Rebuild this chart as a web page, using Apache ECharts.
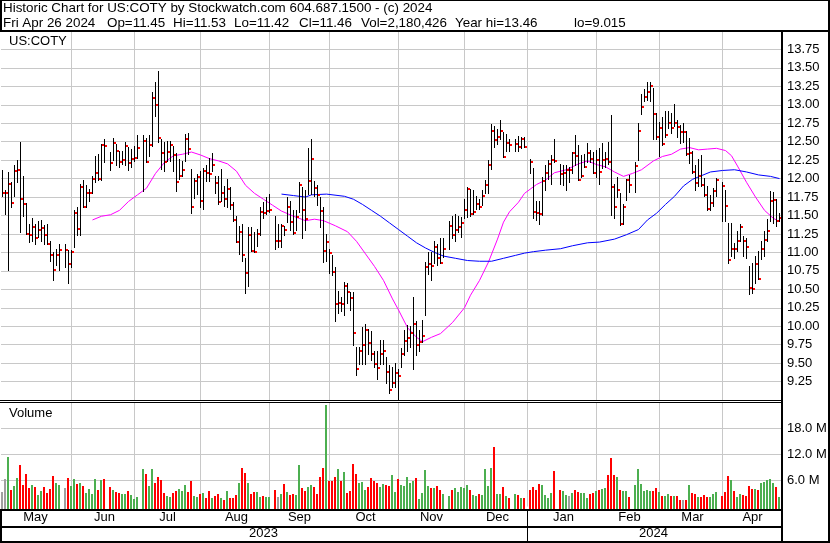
<!DOCTYPE html>
<html><head><meta charset="utf-8">
<script src="https://cdn.jsdelivr.net/npm/echarts/dist/echarts.min.js"></script>
<style>html,body{margin:0;padding:0;background:#fff}#c{width:830px;height:543px}</style>
</head><body><div id="c"></div>
<script>
// ---------------- data ----------------
const startDate = '2023-05-01', endDate = '2024-04-26';
const holidays = ['2023-05-29','2023-06-19','2023-07-04','2023-09-04','2023-11-23','2023-12-25','2024-01-01','2024-01-15','2024-02-19','2024-03-29'];
const monthNames = ['Jan','Feb','Mar','Apr','May','Jun','Jul','Aug','Sep','Oct','Nov','Dec'];

const high = [
12.12,11.84,12.09,11.95,12.18,12.25,12.50,12.03,11.67,11.39,
11.46,11.39,11.43,11.44,11.37,11.39,11.16,11.01,11.05,11.12,
null,11.12,11.03,11.03,11.57,11.62,11.93,11.98,11.91,11.86,
12.04,12.31,12.34,12.47,12.54,null,12.36,12.55,12.47,12.38,
12.38,12.49,12.43,12.40,12.44,12.59,null,12.59,12.55,12.59,
13.18,13.31,13.46,12.53,12.49,12.51,12.51,12.44,12.35,12.26,
12.24,12.60,12.62,12.13,12.01,12.06,12.10,12.15,12.19,12.28,
12.35,12.04,12.04,12.13,11.90,11.99,11.88,11.68,11.50,11.36,
11.38,10.93,11.34,11.34,11.27,11.32,11.61,11.68,11.75,11.79,
null,11.50,11.39,11.39,11.36,11.75,11.70,11.57,11.57,11.95,
11.88,11.85,12.41,12.53,11.97,11.91,11.75,11.61,11.25,11.05,
10.96,10.80,10.48,10.40,10.60,10.58,10.46,10.46,9.72,9.72,
9.99,10.03,9.96,9.94,9.67,9.67,9.81,9.81,9.58,9.48,
9.45,9.50,9.42,9.70,9.95,10.02,10.00,10.40,10.07,9.95,
10.08,10.87,11.01,11.01,11.16,11.12,11.19,11.19,null,11.43,
11.50,11.52,11.50,11.48,11.73,11.89,11.86,11.84,11.77,11.73,
11.84,11.98,12.25,12.74,12.71,12.67,12.80,12.63,12.61,12.54,
null,12.54,12.58,12.57,12.57,null,12.27,12.14,11.69,11.69,
12.02,12.18,12.25,12.32,12.54,null,12.20,12.18,12.18,12.16,
12.36,12.59,12.45,12.32,12.34,12.48,12.39,12.36,12.39,12.41,
12.48,12.36,12.50,12.86,11.93,12.02,11.80,11.66,12.00,12.05,
null,12.23,12.75,13.15,13.22,13.31,13.31,13.23,12.89,12.77,
12.84,12.91,12.92,12.89,13.01,12.80,12.73,12.75,12.64,12.55,
12.37,12.19,12.26,12.32,12.01,11.90,11.78,11.87,12.01,null,
11.96,11.85,11.40,11.40,11.13,11.29,11.38,11.22,11.20,10.82,
10.86,10.95,11.02,11.15,11.29,11.45,11.83,11.82,11.72,11.53];

const low = [
11.77,11.52,10.76,11.62,11.77,11.95,11.28,11.50,11.25,11.14,
11.16,11.12,11.21,11.16,11.12,11.11,10.89,10.62,10.83,10.76,
null,10.80,10.58,10.80,11.07,11.23,11.23,11.62,11.62,11.70,
11.80,11.95,11.98,11.98,12.22,null,12.11,12.25,12.18,12.16,
12.20,12.18,12.11,12.16,12.24,12.28,null,11.83,12.22,12.31,
12.44,12.85,12.50,12.13,12.10,12.24,12.24,12.10,11.83,11.99,
12.04,12.24,12.33,11.54,11.74,11.79,11.61,11.59,11.97,11.97,
12.10,11.81,11.65,11.70,11.63,11.61,11.59,11.43,11.14,10.98,
10.89,10.45,10.55,11.02,11.00,11.09,11.23,11.47,11.52,11.55,
null,11.05,11.07,11.07,11.23,11.41,11.30,11.25,11.30,11.55,
11.20,11.30,11.79,11.79,11.77,11.64,11.34,10.87,10.89,10.72,
10.70,10.07,10.18,10.20,10.15,10.31,10.22,9.74,9.34,9.49,
9.49,9.49,9.63,9.54,9.45,9.29,9.49,9.49,9.23,9.10,
9.18,9.18,9.015,9.45,9.61,9.67,9.72,9.42,9.61,9.66,
9.79,10.15,10.71,10.62,10.85,10.83,10.85,10.94,null,11.05,
11.19,11.16,11.28,11.21,11.46,11.48,11.50,11.52,11.59,11.59,
11.64,11.80,11.80,12.13,12.43,12.47,12.54,12.29,12.38,12.38,
null,12.38,12.38,12.41,12.43,null,12.07,11.46,11.44,11.39,
11.51,11.84,12.00,11.93,12.23,null,11.93,11.91,11.84,11.96,
12.07,12.18,11.98,12.02,12.16,12.23,12.23,12.07,12.02,11.93,
12.14,12.16,12.20,11.51,11.46,11.75,11.37,11.39,11.71,11.82,
null,11.82,12.25,12.88,13.05,13.06,13.05,12.53,12.53,12.30,
12.46,12.57,12.68,12.62,12.71,12.57,12.48,12.50,12.32,12.21,
12.08,11.85,11.90,11.90,11.76,11.58,11.58,11.63,11.76,null,
11.42,11.42,10.86,10.95,10.93,11.02,11.15,10.95,10.93,10.43,
10.45,10.59,10.64,10.91,10.95,11.15,11.42,11.40,11.36,11.42];

const close = [
11.81,11.81,11.93,11.67,12.10,12.11,11.72,11.65,11.25,11.24,
11.34,11.20,11.30,11.33,11.24,11.11,10.97,10.76,10.97,11.03,
null,11.03,10.84,11.00,11.54,11.32,11.89,11.62,11.80,11.81,
11.99,12.08,11.99,12.45,12.44,null,12.21,12.48,12.38,12.22,
12.25,12.44,12.21,12.26,12.28,12.42,null,12.51,12.22,12.45,
13.09,13.00,12.55,12.35,12.22,12.36,12.45,12.32,11.95,12.04,
12.12,12.54,12.40,11.61,11.97,12.02,11.70,12.10,12.07,12.06,
12.18,11.94,11.68,11.81,11.72,11.86,11.64,11.44,11.14,11.27,
10.96,10.72,11.24,11.02,11.01,11.25,11.55,11.54,11.56,11.57,
null,11.15,11.15,11.36,11.30,11.62,11.41,11.26,11.48,11.91,
11.58,11.45,11.97,12.26,11.87,11.78,11.56,11.02,11.14,10.99,
10.73,10.30,10.31,10.30,10.54,10.46,10.38,9.91,9.42,9.67,
9.74,9.95,9.77,9.62,9.49,9.44,9.62,9.67,9.38,9.14,
9.23,9.37,9.32,9.62,9.80,9.84,9.91,10.03,9.75,9.79,
9.87,10.80,10.84,10.82,11.07,10.93,10.86,11.04,null,11.36,
11.24,11.31,11.34,11.40,11.58,11.86,11.52,11.55,11.65,11.62,
11.77,11.91,12.19,12.64,12.52,12.56,12.65,12.29,12.48,12.45,
null,12.47,12.43,12.53,12.43,null,12.23,11.55,11.54,11.52,
11.97,12.07,12.20,12.25,12.24,null,12.06,12.07,12.11,12.11,
12.35,12.31,11.98,12.04,12.16,12.35,12.27,12.08,12.25,12.09,
12.25,12.27,12.22,11.89,11.62,11.84,11.39,11.62,11.98,11.91,
null,12.17,12.65,12.97,13.11,13.18,13.26,12.88,12.57,12.68,
12.47,12.59,12.76,12.68,12.75,12.70,12.63,12.63,12.34,12.35,
12.09,11.94,12.04,11.92,11.78,11.59,11.67,11.83,11.98,null,
11.90,11.63,10.90,11.05,11.04,11.16,11.34,11.16,11.07,10.52,
10.50,10.84,10.64,11.04,11.17,11.29,11.70,11.71,11.43,11.46];

// volume, millions of shares
const volume = [
3.4,6.3,11.4,3.8,4.8,6.5,9.5,4.9,7.5,4.2,
4.9,4.6,2.6,3.5,4.6,3.1,4.0,7.0,5.4,4.9,
null,4.2,6.5,4.8,6.3,5.2,5.4,4.7,3.1,4.0,
2.8,6.3,3.8,6.1,6.3,null,4.5,3.8,3.4,3.1,
2.8,2.8,3.5,2.6,1.8,2.2,null,8.6,7.5,4.7,
8.6,5.4,6.8,6.1,3.1,2.4,2.2,3.1,3.5,4.0,
3.5,4.9,3.3,5.8,2.4,2.2,2.8,3.1,1.9,3.5,
1.9,2.4,2.8,1.9,1.5,3.5,1.9,1.9,2.6,5.4,
8.8,7.7,5.4,2.8,3.3,3.3,2.2,2.4,2.2,2.2,
null,3.8,2.2,2.8,5.2,3.3,2.7,2.8,2.6,9.5,
4.2,3.5,4.5,4.9,4.5,2.8,6.8,8.8,23.4,5.8,
5.8,6.8,8.6,5.8,7.9,3.1,3.5,9.8,7.5,5.4,
5.6,3.8,4.5,6.5,5.8,5.4,4.5,5.2,4.9,4.7,
7.2,3.3,6.3,4.9,4.7,6.8,5.4,5.8,6.5,1.7,
3.0,8.5,4.7,4.2,4.2,4.7,3.8,2.8,null,2.4,
3.8,4.2,3.3,4.6,4.2,5.0,3.8,2.6,2.4,2.8,
2.6,8.6,4.7,8.8,13.8,2.8,2.8,4.5,2.4,1.9,
null,2.8,2.6,1.9,1.9,null,3.8,4.6,3.8,5.3,
4.9,2.6,1.9,3.0,8.2,null,3.8,3.5,2.6,2.4,
3.0,3.8,3.4,3.0,3.2,2.0,2.8,3.0,3.5,3.8,
4.0,4.2,7.2,11.2,7.2,6.8,3.9,3.5,3.5,2.2,
null,4.9,8.6,5.1,3.6,3.8,3.5,3.5,4.2,3.3,
2.4,2.4,2.8,2.4,2.4,2.4,1.5,1.5,1.5,4.9,
3.2,2.9,2.2,2.2,2.6,2.2,2.2,2.8,3.4,null,
2.4,3.4,7.0,6.0,3.6,2.2,2.8,2.6,2.4,4.7,
4.1,4.0,3.9,5.5,5.7,6.2,6.4,5.4,4.4,2.2];

// moving averages: [day index, value]
const maShort = [[30,11.44],[33,11.49],[36,11.51],[39,11.57],[42,11.69],[45,11.78],[48,11.87],[51,12.07],[54,12.22],[57,12.31],[60,12.33],[63,12.36],[66,12.32],[69,12.27],[72,12.24],[75,12.20],[78,12.10],[81,11.91],[84,11.80],[87,11.72],[90,11.64],[93,11.56],[97,11.49],[101,11.43],[104,11.45],[107,11.43],[111,11.36],[115,11.28],[118,11.15],[121,10.98],[124,10.81],[127,10.62],[130,10.37],[132,10.22],[135,9.98],[138,9.85],[140,9.79],[143,9.85],[146,9.90],[150,10.05],[154,10.25],[156,10.42],[159,10.62],[162,10.87],[165,11.18],[167,11.41],[169,11.55],[172,11.68],[174,11.80],[178,11.92],[181,11.98],[184,12.08],[188,12.12],[192,12.20],[195,12.24],[198,12.19],[201,12.16],[204,12.09],[207,12.03],[210,12.07],[213,12.12],[217,12.24],[220,12.30],[223,12.33],[226,12.40],[229,12.42],[232,12.39],[235,12.40],[238,12.41],[241,12.38],[243,12.31],[245,12.17],[248,11.95],[251,11.75],[254,11.57],[257,11.46],[259,11.42]];
const maLong = [[93,11.79],[97,11.77],[101,11.75],[103,11.78],[108,11.79],[114,11.76],[117,11.72],[120,11.65],[123,11.57],[126,11.49],[129,11.40],[132,11.31],[135,11.22],[138,11.13],[141,11.06],[144,11.00],[147,10.95],[151,10.92],[155,10.89],[159,10.88],[163,10.88],[167,10.92],[171,10.96],[174,10.99],[177,11.01],[181,11.03],[186,11.05],[190,11.09],[195,11.13],[199,11.14],[204,11.18],[208,11.24],[212,11.31],[215,11.44],[218,11.53],[221,11.65],[224,11.76],[227,11.90],[230,11.99],[233,12.04],[236,12.09],[240,12.11],[244,12.12],[248,12.09],[252,12.05],[256,12.03],[259,12.00]];

const volumeTicks = [6, 12, 18];
const titleText = 'Historic Chart for US:COTY by Stockwatch.com 604.687.1500 - (c) 2024';
const quoteItems = ['Fri Apr 26 2024','Op=11.45','Hi=11.53','Lo=11.42','Cl=11.46','Vol=2,180,426','Year hi=13.46','lo=9.015'];
const symbolText = 'US:COTY';
const volumeTitle = 'Volume';

// ---------------- derived ----------------
const categories = [];
for (let d = new Date(startDate + 'T00:00:00Z'); d <= new Date(endDate + 'T00:00:00Z'); d.setUTCDate(d.getUTCDate() + 1)) {
  const wd = d.getUTCDay();
  if (wd === 0 || wd === 6) continue;
  categories.push(d.toISOString().slice(0, 10));
}
const gridIdx = [];
for (let i = 1; i < categories.length; i++) {
  if (categories[i].slice(0, 7) !== categories[i - 1].slice(0, 7)) {
    const day = +categories[i].slice(8, 10);
    gridIdx.push(day > 1 ? i - 1 : i);
  }
}
const bounds = [-0.5].concat(gridIdx, [categories.length - 0.5]);
const monthLabelIdx = new Set();
for (let k = 0; k < bounds.length - 1; k++) monthLabelIdx.add(Math.round((bounds[k] + bounds[k + 1]) / 2));
const yearStart = gridIdx.find(i => categories[i].slice(5, 7) === '01');
const yearLabelIdx = new Set([Math.round((-0.5 + yearStart) / 2), Math.round((yearStart + categories.length - 0.5) / 2)]);

const ohlc = [], vols = [];
let prevClose = null;
const GREEN = '#4caf50', RED = '#ff0000', GRAY = '#a0a0a0';
for (let i = 0; i < categories.length; i++) {
  if (close[i] == null) continue;
  ohlc.push([i, high[i], low[i], close[i]]);
  let col = GRAY;
  if (prevClose != null) col = close[i] > prevClose ? GREEN : (close[i] < prevClose ? RED : GRAY);
  vols.push({ value: [i, volume[i]], itemStyle: { color: col } });
  prevClose = close[i];
}

const FONT = 'Liberation Sans, Arial, sans-serif';
const chart = echarts.init(document.getElementById('c'));

function vGrid(params, api) {
  const cx = api.coord([api.value(0), api.value(1)])[0];
  const cs = params.coordSys;
  return { type: 'rect', shape: { x: Math.floor(cx), y: cs.y, width: 1, height: cs.height }, style: { fill: '#c8c8c8' } };
}

const quoteX = [3, 107, 173, 234, 299, 361, 455, 574];
const graphics = [];
function bar(x, y, w, h) { graphics.push({ type: 'rect', silent: true, z: 100, shape: { x, y, width: w, height: h }, style: { fill: '#000' } }); }
bar(0, 0, 830, 1);
bar(0, 0, 2, 31);
bar(0, 30, 830, 2);
bar(828, 0, 2, 543);
bar(781, 31, 2, 512);
bar(0, 400, 781, 1); bar(0, 402, 781, 1);
bar(0, 509, 781, 2);
bar(0, 526, 781, 2);
bar(0, 541, 830, 2);
bar(0, 509, 2, 34);
graphics.push({ type: 'rect', silent: true, z: 100, shape: { x: 527, y: 511, width: 1, height: 30 }, style: { fill: '#000' } });
graphics.push({ type: 'text', z: 101, x: 3, y: 8, style: { text: titleText, font: '13.4px ' + FONT, fill: '#000', verticalAlign: 'middle' } });
quoteItems.forEach((t, k) => graphics.push({ type: 'text', z: 101, x: quoteX[k], y: 23, style: { text: t, font: '13.4px ' + FONT, fill: '#000', verticalAlign: 'middle' } }));
graphics.push({ type: 'text', z: 101, x: 9, y: 41, style: { text: symbolText, font: '13px ' + FONT, fill: '#000', verticalAlign: 'middle' } });
graphics.push({ type: 'text', z: 101, x: 9, y: 413.5, style: { text: volumeTitle, font: '13px ' + FONT, fill: '#000', verticalAlign: 'middle' } });

const option = {
  animation: false,
  backgroundColor: '#ffffff',
  grid: [
    { left: 1, width: 780, top: 31, height: 369, outerBoundsMode: 'none' },
    { left: 1, width: 780, top: 402, height: 104.5, outerBoundsMode: 'none' }
  ],
  xAxis: [
    { type: 'category', gridIndex: 0, data: categories, boundaryGap: true, axisLine: { show: false }, axisTick: { show: false }, axisLabel: { show: false }, splitLine: { show: false } },
    { type: 'category', gridIndex: 1, data: categories, boundaryGap: true, axisLine: { show: false }, axisTick: { show: false }, splitLine: { show: false },
      axisLabel: { show: true, interval: (i) => monthLabelIdx.has(i), formatter: (v) => monthNames[+v.slice(5, 7) - 1], color: '#000', fontSize: 13, fontFamily: FONT, margin: 4 } },
    { type: 'category', gridIndex: 1, data: categories, position: 'bottom', offset: 16, boundaryGap: true, axisLine: { show: false }, axisTick: { show: false }, splitLine: { show: false },
      axisLabel: { show: true, interval: (i) => yearLabelIdx.has(i), formatter: (v) => v.slice(0, 4), color: '#000', fontSize: 13, fontFamily: FONT, margin: 4 } }
  ],
  yAxis: [
    { type: 'value', gridIndex: 0, position: 'right', min: 9, max: 14, interval: 0.25, axisLine: { show: false }, axisTick: { show: false },
      splitLine: { show: true, lineStyle: { color: '#c8c8c8', width: 1 } },
      axisLabel: { color: '#000', fontSize: 13, fontFamily: FONT, margin: 6, showMinLabel: false, showMaxLabel: false, formatter: (v) => v.toFixed(2) } },
    { type: 'value', gridIndex: 1, position: 'right', min: 0, max: 24.1, interval: 6, axisLine: { show: false }, axisTick: { show: false },
      splitLine: { show: false },
      axisLabel: { color: '#000', fontSize: 13, fontFamily: FONT, margin: 6, showMinLabel: false, showMaxLabel: false, formatter: (v) => (volumeTicks.indexOf(v) >= 0 ? v.toFixed(1) + ' M' : '') } }
  ],
  series: [
    { type: 'custom', name: 'monthGridPrice', xAxisIndex: 0, yAxisIndex: 0, z: 0, silent: true, data: gridIdx.map(i => [i, 10]), encode: { x: 0, y: 1 }, renderItem: vGrid },
    { type: 'custom', name: 'monthGridVol', xAxisIndex: 1, yAxisIndex: 1, z: 0, silent: true, data: gridIdx.map(i => [i, 1]), encode: { x: 0, y: 1 }, renderItem: vGrid },
    { type: 'custom', name: 'volGrid', xAxisIndex: 1, yAxisIndex: 1, z: 0, silent: true, data: volumeTicks.map(v => [0, v]), encode: { x: 0, y: 1 },
      renderItem: (params, api) => { const cs = params.coordSys; const y = Math.round(api.coord([0, api.value(1)])[1]); return { type: 'rect', shape: { x: cs.x, y: y, width: cs.width, height: 1 }, style: { fill: '#c8c8c8' } }; } },
    { type: 'line', name: 'MA short', xAxisIndex: 0, yAxisIndex: 0, z: 2, data: maShort, showSymbol: false, symbol: 'none', lineStyle: { color: '#ff00ff', width: 1 }, silent: true },
    { type: 'line', name: 'MA long', xAxisIndex: 0, yAxisIndex: 0, z: 2, data: maLong, showSymbol: false, symbol: 'none', lineStyle: { color: '#0000ff', width: 1 }, silent: true },
    { type: 'custom', name: 'price', xAxisIndex: 0, yAxisIndex: 0, z: 3, silent: true, data: ohlc, encode: { x: 0, y: [1, 2, 3] },
      renderItem: (params, api) => {
        const i = api.value(0);
        const pH = api.coord([i, api.value(1)]), pL = api.coord([i, api.value(2)]), pC = api.coord([i, api.value(3)]);
        const cx = pH[0];
        const yH = Math.round(pH[1]), yL = Math.round(pL[1]);
        return { type: 'group', children: [
          { type: 'rect', shape: { x: cx - 0.5, y: yH, width: 1, height: Math.max(1, yL - yH + 1) }, style: { fill: '#000' } },
          { type: 'rect', shape: { x: cx + 0.5, y: Math.round(pC[1]) - 1, width: 2, height: 2 }, style: { fill: '#ff0000' } }
        ] };
      } },
    { type: 'custom', name: 'volume', xAxisIndex: 1, yAxisIndex: 1, z: 3, silent: true, data: vols, encode: { x: 0, y: 1 },
      renderItem: (params, api) => {
        const p = api.coord([api.value(0), api.value(1)]);
        const cs = params.coordSys;
        const top = Math.round(p[1]);
        const bottom = cs.y + cs.height + 2.5;
        return { type: 'rect', shape: { x: p[0] - 1.5, y: top, width: 2, height: bottom - top }, style: { fill: api.visual('color') } };
      } }
  ],
  graphic: graphics
};
chart.setOption(option);
</script>
</body></html>
